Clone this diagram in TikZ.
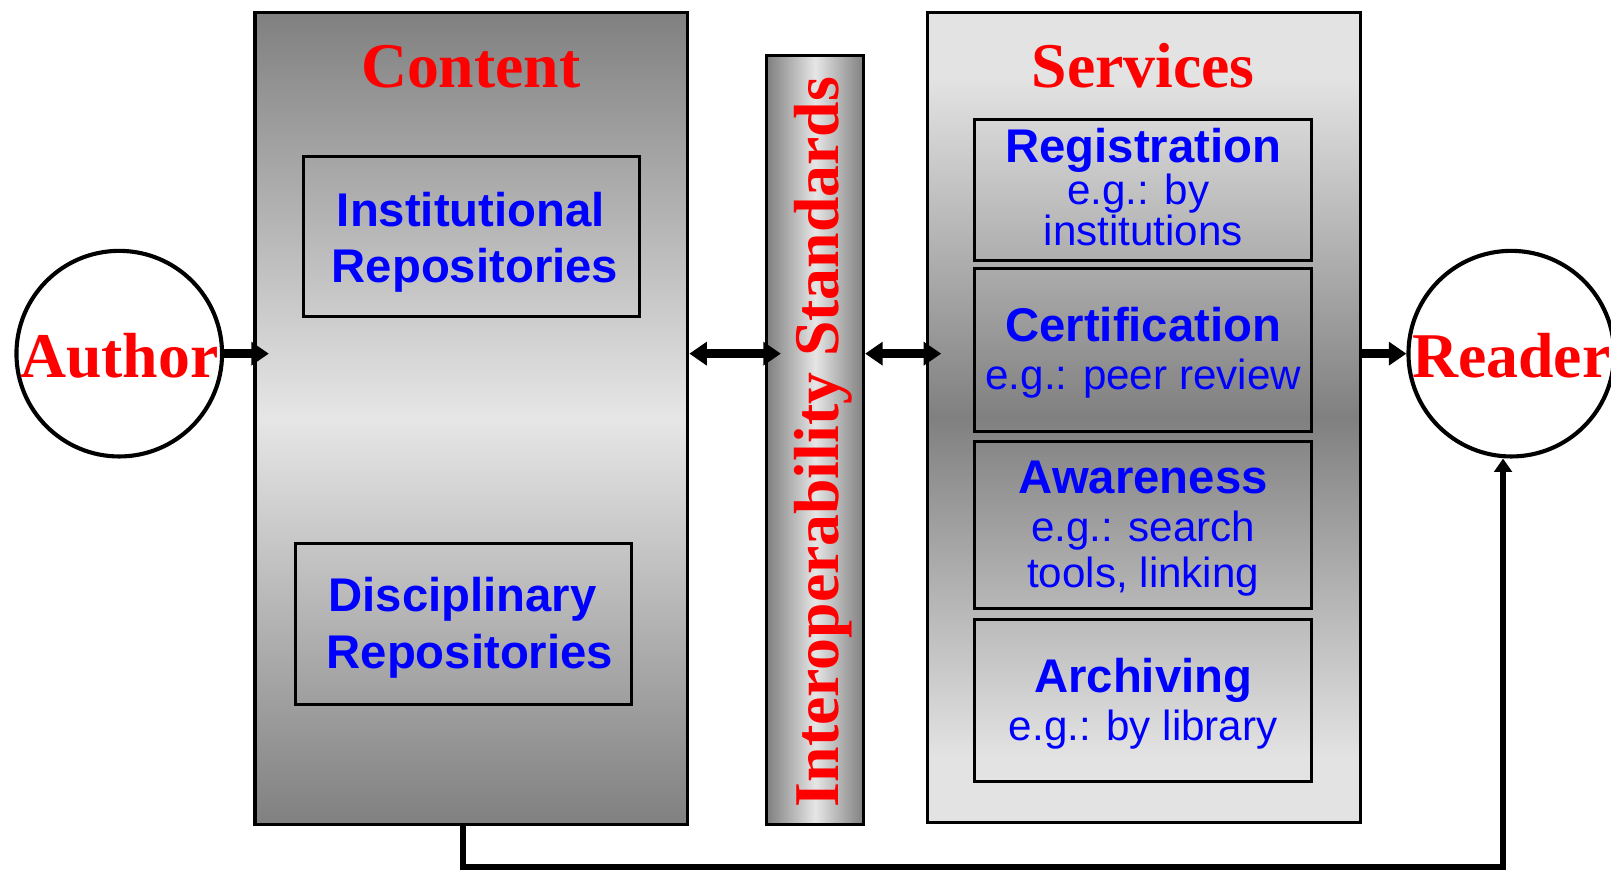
\documentclass[tikz,border=0pt]{standalone}
\usepackage{fontspec}
\setmainfont{Liberation Serif}
\newfontfamily\sansfont{Liberation Sans}
\usetikzlibrary{arrows.meta}
\definecolor{gdark}{RGB}{128,128,128}
\definecolor{glight}{RGB}{230,230,230}
\definecolor{slight}{RGB}{227,227,227}
\definecolor{tred}{RGB}{255,0,0}
\definecolor{tblue}{RGB}{0,0,255}
\pgfdeclareverticalshading{svcshade}{100bp}{color(0bp)=(slight); color(29bp)=(slight); color(50bp)=(gdark); color(71bp)=(slight); color(100bp)=(slight)}
\begin{document}
\begin{tikzpicture}[x=1pt,y=-1pt,
  bigbox/.style={draw, line width=3pt, rectangle, inner sep=0pt},
  subbox/.style={draw, line width=3pt, rectangle, inner sep=0pt},
  actor/.style={draw, circle, line width=4pt, minimum size=200pt, inner sep=0pt, fill=white},
  redtxt/.style={text=tred, font=\fontsize{62}{70}\selectfont\bfseries, inner sep=0pt},
  headtxt/.style={text=tblue, font=\sansfont\fontsize{46}{52}\selectfont\bfseries, anchor=base, inner sep=0pt},
  subtxt/.style={text=tblue, font=\sansfont\fontsize{41}{46}\selectfont, anchor=base, inner sep=0pt},
  conn/.style={line width=9pt, -{Triangle[length=17pt,width=22pt]}},
  dconn/.style={line width=9pt, {Triangle[length=17pt,width=22pt]}-{Triangle[length=17pt,width=22pt]}},
  fb/.style={line width=6pt, -{Triangle[length=13pt,width=17pt]}}
]
\useasboundingbox (0,0) rectangle (1567,848);

% main panels
\node[bigbox, minimum width=421pt, minimum height=790pt,
      top color=gdark, bottom color=gdark, middle color=glight] (content) at (458.5,407) {};
\node[bigbox, minimum width=94pt, minimum height=748pt,
      left color=gdark, right color=gdark, middle color=glight] (interop) at (793,428) {};
\node[bigbox, minimum width=421pt, minimum height=788pt,
      shade, shading=svcshade] (services) at (1112.5,406) {};

% titles
\node[redtxt, anchor=base] (contenttitle) at (458,85) {Content};
\node[redtxt, anchor=base] (servicestitle) at (1112,85) {Services};
\node[redtxt, rotate=90] (interoptxt) at (801,430) {Interoperability Standards};

% content sub boxes
\node[subbox, minimum width=327pt, minimum height=156pt] (inst) at (458.5,230) {};
\node[headtxt] (inst1) at (458,220) {Institutional};
\node[headtxt] (inst2) at (462,275) {Repositories};
\node[subbox, minimum width=327pt, minimum height=156pt] (disc) at (450.5,607) {};
\node[headtxt] (disc1) at (450,595) {Disciplinary};
\node[headtxt] (disc2) at (457,650) {Repositories};

% services sub boxes
\node[subbox, minimum width=328pt, minimum height=137pt] (reg) at (1112,184.5) {};
\node[headtxt] (reg1) at (1112,158) {Registration};
\node[subtxt] (reg2) at (1107,199) {e.g.: by};
\node[subtxt] (reg3) at (1112,239) {institutions};
\node[subbox, minimum width=328pt, minimum height=159pt] (cert) at (1112,340.5) {};
\node[headtxt] (cert1) at (1112,332) {Certification};
\node[subtxt] (cert2) at (1112,379) {e.g.: peer review};
\node[subbox, minimum width=328pt, minimum height=163pt] (aware) at (1112,510.5) {};
\node[headtxt] (aware1) at (1112,480) {Awareness};
\node[subtxt] (aware2) at (1112,527) {e.g.: search};
\node[subtxt] (aware3) at (1112,571) {tools, linking};
\node[subbox, minimum width=328pt, minimum height=157pt] (arch) at (1112,681.5) {};
\node[headtxt] (arch1) at (1112,674) {Archiving};
\node[subtxt] (arch2) at (1112,720) {e.g.: by library};

% actors
\node[actor] (author) at (116,344) {};
\node[redtxt, anchor=base] (authortxt) at (116,367) {Author};
\node[actor] (reader) at (1470,344) {};
\node[redtxt, anchor=base] (readertxt) at (1470,367) {Reader};

% connectors
\draw[conn] (author.east) -- ([xshift=15pt]content.west |- author.east);
\draw[dconn] (content.east |- author.east) -- ([xshift=15pt]interop.west |- author.east);
\draw[dconn] (interop.east |- author.east) -- ([xshift=15pt]services.west |- author.east);
\draw[conn] (services.east |- reader.west) -- (reader.west);
\draw[fb] ([xshift=-8pt]content.south) -- ++(0,40) -| ([xshift=-8pt]reader.south);
\end{tikzpicture}
\end{document}
